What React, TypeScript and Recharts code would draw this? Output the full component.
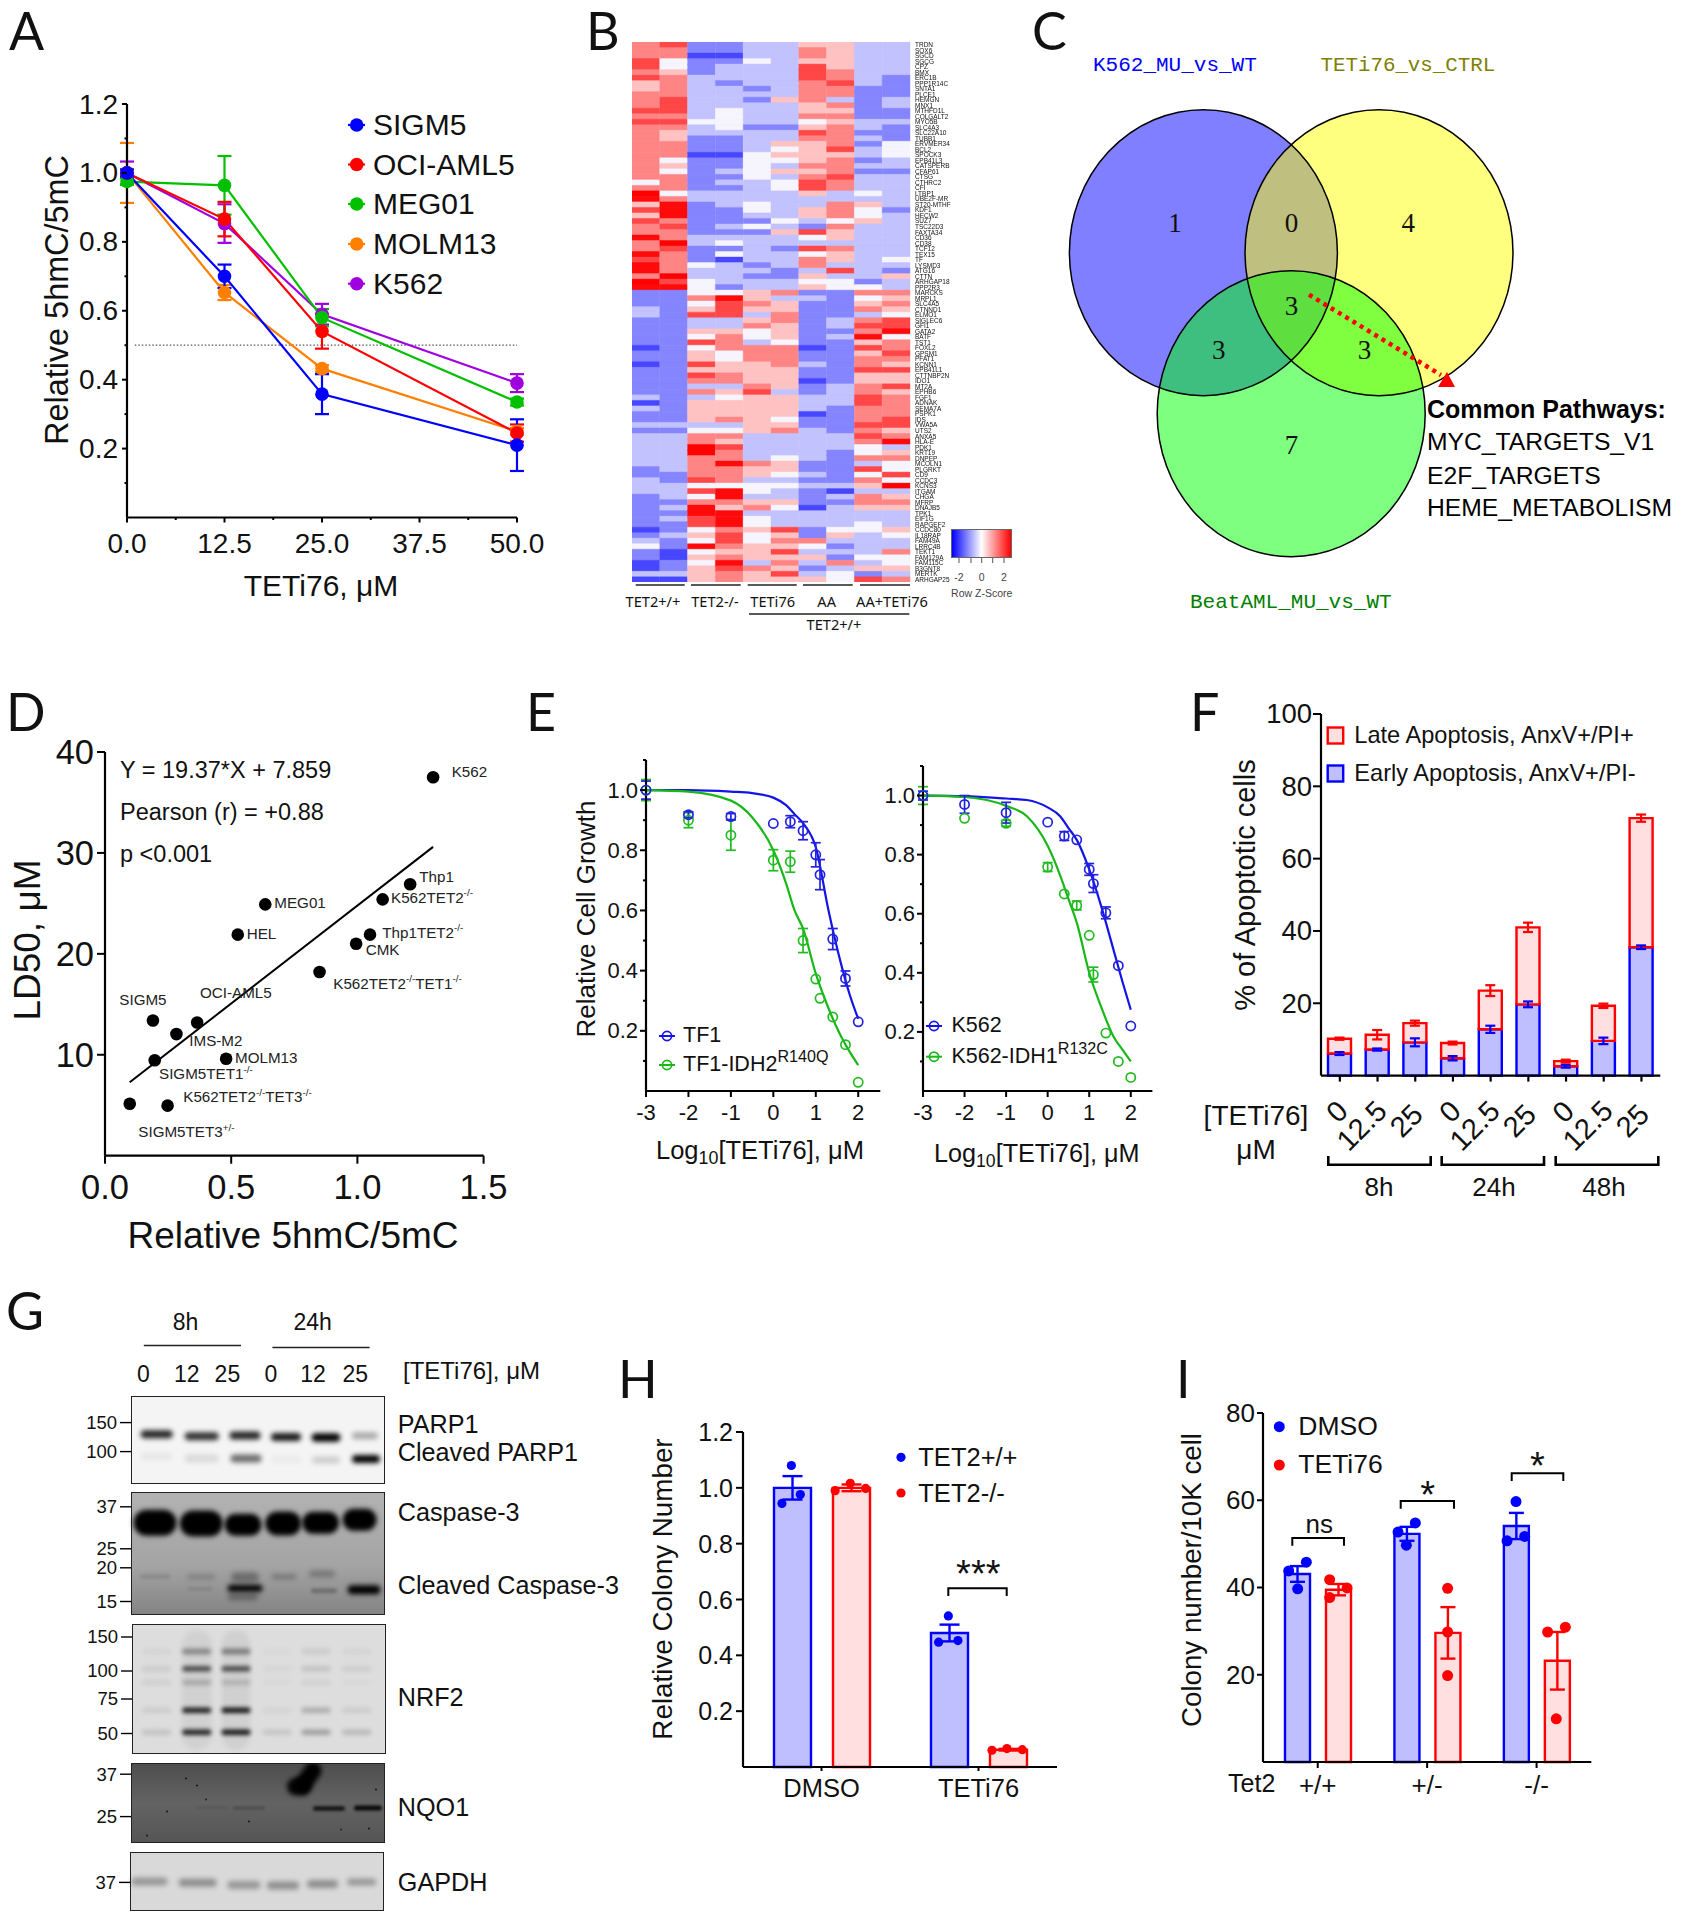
import React from "react";
import {
  Bar, BarChart, Cell, ComposedChart, ErrorBar, Line, ReferenceLine, Scatter, ScatterChart, XAxis, YAxis,
} from "recharts";

const SANS = '"Liberation Sans", Arial, sans-serif';
const THIN = '"Noto Sans", sans-serif';
const LETTER = 'Lato, sans-serif';
const SERIF = '"Liberation Serif", serif';
const MONO = '"Liberation Mono", monospace';
const BLUE = "#0000ff";
const RED = "#ff0000";
const BLUE_FILL = "#bfbfff";
const RED_FILL = "#ffdfdf";

// ---- A: 5hmC/5mC vs dose
const aDoses = [0, 12.5, 25, 50];
const aSigm5 = [1.0, 0.7, 0.358, 0.21];
const aSigm5Err = [0.01, 0.034, 0.058, 0.075];
const aOci = [1.0, 0.866, 0.54, 0.245];
const aOciErr = [0.01, 0.05, 0.05, 0.025];
const aMeg = [0.975, 0.964, 0.58, 0.335];
const aMegErr = [0.01, 0.085, 0.025, 0.01];
const aMolm = [1.0, 0.653, 0.432, 0.25];
const aMolmErr = [0.087, 0.022, 0.01, 0.01];
const aK562 = [1.0, 0.853, 0.59, 0.39];
const aK562Err = [0.033, 0.056, 0.03, 0.026];
const aTable = aDoses.map((dose, i) => ({
  dose,
  SIGM5: aSigm5[i], SIGM5e: aSigm5Err[i],
  OCI: aOci[i], OCIe: aOciErr[i],
  MEG: aMeg[i], MEGe: aMegErr[i],
  MOLM: aMolm[i], MOLMe: aMolmErr[i],
  K562: aK562[i], K562e: aK562Err[i],
}));
const aSeries = [
  { key: "K562", name: "K562", color: "#a000e0" },
  { key: "MOLM", name: "MOLM13", color: "#ff8000" },
  { key: "MEG", name: "MEG01", color: "#00c000" },
  { key: "OCI", name: "OCI-AML5", color: "#ff0000" },
  { key: "SIGM5", name: "SIGM5", color: "#0000ff" },
];
const aLegend = ["SIGM5", "OCI-AML5", "MEG01", "MOLM13", "K562"];
const aLegendY = [125, 164.5, 204, 244, 283.7];

// ---- B: heatmap, one digit per cell, 4 = white, lower = blue, higher = red
const heatColumns = [0, 1, 2, 3, 4, 5, 6, 7, 8, 9];
const heatRows = [
  "67 22 33 55 33", "66 22 33 65 33", "66 11 33 65 33", "74 22 43 55 33", "74 23 33 75 33",
  "65 23 33 76 33", "76 33 33 76 32", "56 32 33 67 32", "56 33 23 66 22", "66 33 33 66 22",
  "67 33 25 63 23", "67 33 33 56 23", "77 34 33 55 22", "66 34 33 66 22", "77 44 33 45 33",
  "66 34 22 56 32", "65 33 33 76 22", "65 22 33 66 32", "66 22 35 56 24", "66 22 34 57 34",
  "66 11 45 55 34", "64 22 44 56 23", "65 22 43 66 33", "64 23 45 56 22", "66 22 43 67 33",
  "46 23 34 76 33", "66 22 34 76 33", "94 33 33 53 43", "86 33 33 33 33", "58 23 43 36 53",
  "78 22 43 56 42", "58 22 33 56 43", "76 22 24 34 53", "67 23 43 26 33", "66 22 25 75 33",
  "86 33 33 45 33", "69 34 33 33 33", "67 22 32 76 33", "86 24 33 45 33", "76 21 33 65 34",
  "86 43 23 63 33", "86 33 32 37 32", "69 33 22 53 35", "97 43 33 44 23", "88 42 33 54 43",
  "22 44 56 22 66", "22 68 53 32 45", "22 47 65 22 56", "32 57 55 22 65", "32 77 36 22 34",
  "22 33 56 23 67", "22 33 65 23 77", "22 55 45 22 68", "22 46 45 23 84", "22 76 34 22 56",
  "12 46 66 12 76", "22 54 66 22 57", "22 54 66 22 66", "12 75 56 32 65", "22 55 55 22 77",
  "22 76 55 22 55", "22 66 55 12 55", "22 33 65 23 67", "22 65 73 23 65", "32 34 55 33 76",
  "12 55 55 33 76", "32 55 55 32 66", "22 55 55 12 66", "22 56 54 22 67", "33 33 55 22 77",
  "22 44 56 32 65", "33 66 33 33 76", "33 65 33 33 68", "33 97 33 33 43", "33 96 33 32 45",
  "33 66 34 32 66", "33 68 65 22 34", "23 66 55 22 74", "22 66 54 32 47", "32 76 33 22 64",
  "33 44 44 33 59", "33 78 43 21 33", "23 48 33 23 65", "22 66 55 22 66", "23 85 64 13 55",
  "22 88 33 33 33", "23 78 43 33 33", "22 78 43 33 43", "12 46 57 24 45", "23 57 45 25 34",
  "32 47 46 63 33", "42 86 55 42 33", "21 45 57 33 36", "21 56 55 52 44", "12 48 36 36 34",
  "12 57 65 23 55", "33 56 57 34 23", "11 56 55 54 76",
];
const heatGenes = [
  "TRDN", "SOX6", "SGCD", "SGCG", "CPZ", "BMX", "ERC1B", "PPP1R14C", "SNTA1", "PLCE1",
  "HEMGN", "MNX1", "MTHFD1L", "COLGALT2", "MYO5B", "SLC4A3", "SLC22A10", "TUBB1", "ERVMER34", "BCL2",
  "SPOCK3", "EPB41L3", "CATSPERB", "CFAP61", "CTSG", "CTHRC2", "CFI", "LTBP1", "UBE2F-MR", "ST20-MTHF",
  "KDF1", "HECW2", "SUZ7", "TSC22D3", "FAXTA34", "CD36", "CD38", "TCF12", "TEX15", "TF",
  "LYSMD3", "ATG16", "CTTN", "ARHGAP18", "PPP2R3", "MARCKS", "MRPL1", "SLC4A5", "CTNND1", "ELMO1",
  "SIGLEC6", "GFI1", "GATA2", "BATF", "TST1", "FOXL2", "GPSM1", "PFAT1", "KCNN1", "EPB41L1",
  "CTTNBP2N", "IDO1", "MT2A", "EPHB6", "FGF1", "ADNAK", "SEMA7A", "PSPK1", "IDS", "VWA5A",
  "UTS2", "ANXA5", "HLA-E", "PDK1", "KRT19", "DNPEP", "MCOLN1", "PLGRKT", "CD9", "CCDC3",
  "KCNS3", "ITGAM", "CHGA", "MFRP", "DNAJB5", "TPK1", "EIF1G", "RAPGEF2", "CCDC80", "IL18RAP",
  "FAM49A", "LRRC4B", "TEKT1", "FAM129A", "FAM115C", "B3GNT8", "MERTK", "ARHGAP25",
];
const heatTable = heatRows.map((r, i) => {
  const row: any = { gene: heatGenes[i] ?? "", codes: r.replace(/ /g, "") };
  heatColumns.forEach((c) => (row["c" + c] = 1));
  return row;
});
const zColor = (d: number) => {
  const t = Math.min(1, Math.abs(d - 4) * 0.24);
  const v = Math.round(255 * (1 - t));
  return d < 4 ? `rgb(${v},${v},255)` : d === 4 ? "#f6f4fc" : `rgb(255,${v},${v})`;
};

// ---- C: venn circles
const vennNames = ["K562_MU_vs_WT", "TETi76_vs_CTRL", "BeatAML_MU_vs_WT"];
const vennColors = ["#0000ff", "#ffff00", "#00ff00"];
const vennX = [1203.4, 1379, 1291.2];
const vennY = [252.7, 252.7, 413.7];
const vennCounts = ["1", "0", "4", "3", "3", "3", "7"];
const vennCountX = [1175, 1291.4, 1408.3, 1291.4, 1218.8, 1364.4, 1291.4];
const vennCountY = [223, 223, 223, 306, 350, 350, 445];
const pathways = ["MYC_TARGETS_V1", "E2F_TARGETS", "HEME_METABOLISM"];

// ---- D: LD50 scatter
const dX = [1.3, 1.209, 1.1, 0.635, 0.526, 1.05, 0.995, 0.85, 0.19, 0.283, 0.365, 0.48, 0.197, 0.098, 0.248];
const dY = [37.5, 26.9, 25.4, 24.9, 21.9, 21.9, 21.0, 18.2, 13.4, 12.05, 13.2, 9.6, 9.45, 5.15, 4.96];
const dTable = dX.map((x, i) => ({ x, y: dY[i] }));
const dFit = [{ x: 0.098, y: 7.28 }, { x: 1.3, y: 30.6 }];

// ---- E: dose response
const eDoses = [-3, -2, -1, 0, 0.4, 0.7, 1, 1.1, 1.4, 1.7, 2];
const tf1 = [1.0, 0.918, 0.912, 0.889, 0.895, 0.865, 0.785, 0.719, 0.505, 0.374, 0.23];
const tf1Err = [0.03, 0.01, 0.01, 0, 0.02, 0.03, 0.04, 0.05, 0.035, 0.025, 0];
const tf1Mut = [1.0, 0.9, 0.85, 0.767, 0.762, 0.5, 0.372, 0.308, 0.246, 0.154, 0.029];
const tf1MutErr = [0.035, 0.025, 0.05, 0.035, 0.035, 0.04, 0, 0, 0, 0, 0];
const k562 = [1.0, 0.97, 0.942, 0.91, 0.863, 0.85, 0.75, 0.702, 0.603, 0.424, 0.22];
const k562Err = [0.015, 0.03, 0.035, 0, 0.015, 0, 0.02, 0.03, 0.02, 0, 0];
const k562Mut = [1.0, 0.923, 0.906, 0.758, 0.667, 0.628, 0.527, 0.394, 0.196, 0.1, 0.046];
const k562MutErr = [0.03, 0, 0.01, 0.015, 0, 0.015, 0, 0.025, 0, 0, 0];
const curveX = [-3, -2, -1, -0.5, 0, 0.3, 0.5, 0.7, 1, 1.3, 1.6, 1.8, 2];
const tf1Curve = [1, 1, 0.995, 0.99, 0.975, 0.95, 0.92, 0.89, 0.81, 0.6, 0.42, 0.32, 0.24];
const tf1MutCurve = [1, 0.995, 0.965, 0.91, 0.8, 0.69, 0.6, 0.54, 0.39, 0.275, 0.18, 0.13, 0.086];
const k562Curve = [1, 0.998, 0.99, 0.985, 0.96, 0.93, 0.89, 0.85, 0.75, 0.62, 0.47, 0.37, 0.275];
const k562MutCurve = [1, 0.995, 0.965, 0.93, 0.83, 0.73, 0.65, 0.57, 0.4, 0.28, 0.18, 0.14, 0.1];
const points = (ys: number[], errs: number[]) => eDoses.map((x, i) => ({ x, y: ys[i], err: errs[i] }));
const curve = (ys: number[]) => curveX.map((x, i) => ({ x, y: ys[i] }));

// ---- F: apoptosis stack
const fDoses = ["0", "12.5", "25", "0", "12.5", "25", "0", "12.5", "25"];
const fEarly = [6.1, 7.2, 9.2, 4.8, 12.8, 19.7, 2.6, 9.6, 35.5];
const fEarlyErr = [0.4, 0.3, 1.1, 0.6, 1, 0.8, 0.4, 0.9, 0.5];
const fLate = [4.1, 4.1, 5.3, 4.2, 10.7, 21.3, 1.4, 9.7, 35.7];
const fLateErr = [0.3, 1.3, 0.7, 0.4, 1.5, 1.3, 0.4, 0.6, 1];
const fTable = fDoses.map((dose, i) => ({
  dose, early: fEarly[i], earlyErr: fEarlyErr[i], late: fLate[i], lateErr: fLateErr[i],
}));
const fTimes = ["8h", "24h", "48h"];

// ---- G: western blots, each band is [x, y, width, height, darkness, rotation]
const parpBands = [
  [156.7, 1434.2, 32, 8, 0.85], [201.7, 1436.3, 34, 8, 0.8], [245, 1435.4, 31, 8, 0.85],
  [286, 1437, 30, 8, 0.9], [326, 1437.5, 29, 8.5, 1], [365, 1435.8, 26, 7, 0.3],
  [156.7, 1456.6, 32, 7, 0.05], [201.7, 1458.6, 34, 8, 0.1], [246, 1458.6, 31, 8, 0.55],
  [286, 1459.5, 30, 7, 0.04], [326, 1460, 28, 7, 0.16], [366, 1459, 28, 8, 1],
];
const caspaseBands = [
  [155, 1522.9, 43, 26, 1], [201.3, 1523.7, 43, 26, 1], [243, 1525, 37, 22, 1],
  [283.2, 1523.7, 36, 24, 1], [320.6, 1522.9, 37, 22, 1], [359.6, 1520, 34, 22, 1],
  [155, 1576.8, 30, 5, 0.1], [201, 1577, 28, 6, 0.14], [245, 1577.5, 28, 10, 0.3],
  [284, 1577, 25, 6, 0.2], [322, 1574, 26, 7, 0.24],
  [245, 1588.4, 35, 7, 1], [200, 1589, 24, 4, 0.1], [324, 1591, 26, 5, 0.24], [364, 1590, 33, 9, 1],
  [243, 1597, 30, 7, 0.3],
];
const nrfLanes = [156.7, 196.9, 236.2, 277.2, 316.2, 356.8];
const nrfRows = [1651.4, 1668.8, 1682.5, 1710.3, 1732.3];
const nrfDarkness = [
  [0.04, 0.08, 0.06, 0.08, 0.12],
  [0.35, 0.65, 0.2, 0.85, 0.85],
  [0.4, 0.65, 0.15, 0.9, 0.9],
  [0.02, 0.03, 0.02, 0.04, 0.1],
  [0.08, 0.12, 0.05, 0.22, 0.28],
  [0.04, 0.07, 0.02, 0.08, 0.16],
];
const nrfBands = [
  [196.9, 1690, 30, 120, 0.05], [236.2, 1690, 28, 120, 0.06],
  ...nrfLanes.flatMap((x, l) => nrfRows.map((y, r) => [x, y, 29, r === 0 ? 6 : 5.5, nrfDarkness[l][r]])),
];
const nqoBands = [
  [308, 1778, 17, 34, 1, 35], [299, 1787, 24, 18, 0.95], [329, 1809, 32, 4.5, 0.8], [368, 1808.5, 28, 5, 0.9], [249, 1808.5, 32, 3.5, 0.18], [212, 1808, 32, 3, 0.08],
  [186, 1779, 2, 2, 0.8], [197, 1786, 2, 2, 0.8], [206, 1800, 2, 2, 0.7], [167, 1812, 2, 2, 0.8],
  [249, 1822, 2, 2, 0.8], [147, 1836, 2, 2, 0.7], [341, 1830, 2, 2, 0.6], [369, 1829, 2, 2, 0.8], [376, 1790, 2, 2, 0.8],
];
const gapdhBands = [
  [149.5, 1881.5, 36, 8, 0.3], [197.7, 1882.8, 38, 8, 0.34], [243.9, 1885, 33, 8, 0.3],
  [283, 1885.5, 32, 8, 0.34], [322.6, 1884, 31, 8, 0.34], [361.6, 1882, 29, 7, 0.3],
];
const gDoses = ["0", "12", "25", "0", "12", "25"];
const gDoseX = [143.4, 186.8, 227.4, 270.8, 313, 355.2];
const gProteins = ["PARP1", "Cleaved PARP1", "Caspase-3", "Cleaved Caspase-3", "NRF2", "NQO1", "GAPDH"];
const gProteinY = [1424, 1451.6, 1511.7, 1585, 1697, 1807, 1881.5];

// ---- H: relative colony number
const hGroups = ["DMSO", "TETi76"];
const hWt = [1.0, 0.48];
const hWtErr = [0.042, 0.03];
const hKo = [1.0, 0.062];
const hKoErr = [0.012, 0.003];
const hTable = hGroups.map((g, i) => ({ g, wt: hWt[i], wtErr: hWtErr[i], ko: hKo[i], koErr: hKoErr[i] }));
const hWtDotX = [0.308, 0.365, 0.248, 1.308, 1.246, 1.369];
const hWtDotY = [1.08, 0.976, 0.944, 0.541, 0.447, 0.453];
const hKoDotX = [0.587, 0.683, 0.781, 1.586, 1.681, 1.779];
const hKoDotY = [0.99, 1.016, 0.998, 0.06, 0.066, 0.062];

// ---- I: colony number per genotype
const iGroups = ["+/+", "+/-", "-/-"];
const iDmso = [43.1, 52.3, 54.1];
const iDmsoErr = [1.8, 1.6, 3];
const iTet = [39.5, 29.6, 23.2];
const iTetErr = [1.3, 5.9, 6.6];
const iTable = iGroups.map((g, i) => ({ g, dmso: iDmso[i], dmsoErr: iDmsoErr[i], tet: iTet[i], tetErr: iTetErr[i] }));
const iDmsoDotX = [0.396, 0.235, 0.317, 1.392, 1.234, 1.31, 2.312, 2.23, 2.391];
const iDmsoDotY = [45.8, 43.8, 39.7, 54.8, 52.7, 49.7, 59.7, 50.7, 51.7];
const iTetDotX = [0.609, 0.768, 0.609, 1.687, 1.687, 1.687, 2.763, 2.601, 2.68];
const iTetDotY = [41.8, 39.9, 37.7, 39.8, 29.8, 19.8, 30.9, 29.8, 9.9];

const zip = (xs: number[], ys: number[]) => xs.map((x, i) => ({ x, y: ys[i] }));

// places a chart so that its plot area sits exactly on x0..x1, y0..y1 of the page
const frame = (x0: number, y0: number, x1: number, y1: number, padL = 70, padB = 50, pad = 22, padR = 34) => ({
  pos: { position: "absolute", left: x0 - padL, top: y0 - pad } as React.CSSProperties,
  chart: { width: x1 - x0 + padL + padR, height: y1 - y0 + pad + padB, margin: { top: pad, right: padR, left: 0, bottom: 0 } },
  padL,
  padB,
});

const yTick = (o: any) => (p: any) => {
  const v = p.payload.value;
  const major = o.major ? o.major(v) : true;
  const len = major ? o.len : o.minor;
  return (
    <g>
      <line x1={p.x - len} x2={p.x} y1={p.y} y2={p.y} stroke="#000" strokeWidth={o.sw ?? 2} />
      {major && (
        <text x={p.x - o.gap} y={p.y} textAnchor="end" dominantBaseline="central" fontSize={o.size} fontFamily={SANS} fill="#111">
          {o.fmt ? o.fmt(v) : v}
        </text>
      )}
    </g>
  );
};
const xTick = (o: any) => (p: any) => {
  const v = p.payload.value;
  const major = o.major ? o.major(v) : true;
  const len = major ? o.len : o.minor;
  return (
    <g>
      <line x1={p.x} x2={p.x} y1={p.y} y2={p.y + len} stroke="#000" strokeWidth={o.sw ?? 2} />
      {major && (
        <text x={p.x} y={p.y + o.gap} textAnchor="middle" dominantBaseline="central" fontSize={o.size} fontFamily={SANS} fill="#111">
          {o.fmt ? o.fmt(v) : v}
        </text>
      )}
    </g>
  );
};
const axisProps = (sw = 2.2) => ({
  axisLine: { stroke: "#000", strokeWidth: sw },
  tickLine: false,
  tickSize: 0,
  tickMargin: 0,
  interval: 0 as const,
});

function T({ x, y, s, a = "start", r = 0, b = false, c = "#111", f = SANS, lh = 1.2, children }: any) {
  const tx = a === "start" ? "0" : a === "middle" ? "-50%" : "-100%";
  return (
    <div
      style={{
        position: "absolute", left: x, top: y, fontSize: s, fontFamily: f, fontWeight: b ? 700 : 400, color: c,
        lineHeight: lh, whiteSpace: "nowrap", zIndex: 5, transform: `translate(${tx},-50%) rotate(${r}deg)`,
      }}
    >
      {children}
    </div>
  );
}
const Sup = ({ k = 0.65, lift = 0.42, children }: any) => (
  <span style={{ fontSize: `${k}em`, position: "relative", top: `-${lift / k}em` }}>{children}</span>
);
const Sub = ({ children }: any) => (
  <span style={{ fontSize: "0.7em", position: "relative", top: "0.3em" }}>{children}</span>
);

const openDot = (color: string) => (p: any) => (
  <circle cx={p.cx} cy={p.cy} r={4.6} fill="none" stroke={color} strokeWidth={1.7} />
);
const solidDot = (color: string, r: number) => (p: any) => <circle cx={p.cx} cy={p.cy} r={r} fill={color} />;

function DoseChart({ box, blue, blueErr, green, greenErr, blueCurve, greenCurve }: any) {
  const f = frame(box[0], box[1], box[2], box[3], 60, 40);
  return (
    <div style={f.pos}>
      <ComposedChart {...f.chart}>
        <XAxis dataKey="x" type="number" domain={[-3, 2.52]} ticks={[-3, -2, -1, 0, 1, 2]} height={f.padB} {...axisProps()}
          tick={xTick({ len: 6, gap: 21.7, size: 22 })} />
        <YAxis type="number" domain={[0, 1.1]} ticks={[0.1, 0.2, 0.3, 0.4, 0.5, 0.6, 0.7, 0.8, 0.9, 1.0, 1.1]} width={f.padL} {...axisProps()}
          tick={yTick({ len: 6, minor: 3, gap: 8, size: 22, major: (v: number) => Math.round(v * 10) % 2 === 0, fmt: (v: number) => v.toFixed(1) })} />
        <Line data={curve(blueCurve)} dataKey="y" type="monotone" stroke="#1414e6" strokeWidth={2.2} dot={false} isAnimationActive={false} />
        <Line data={curve(greenCurve)} dataKey="y" type="monotone" stroke="#18b818" strokeWidth={2.2} dot={false} isAnimationActive={false} />
        <Scatter data={points(green, greenErr)} dataKey="y" shape={openDot("#22bb22")} isAnimationActive={false}>
          <ErrorBar dataKey="err" direction="y" width={5} stroke="#22bb22" strokeWidth={1.7} />
        </Scatter>
        <Scatter data={points(blue, blueErr)} dataKey="y" shape={openDot("#2222e0")} isAnimationActive={false}>
          <ErrorBar dataKey="err" direction="y" width={5} stroke="#2222e0" strokeWidth={1.7} />
        </Scatter>
      </ComposedChart>
    </div>
  );
}

const bandShape = (p: any) => {
  const [, , w, h, d, rot] = p.payload.band;
  return (
    <rect x={p.cx - w / 2} y={p.cy - h / 2} width={w} height={h} rx={Math.min(h, w) / 2} fill="#000" fillOpacity={d}
      transform={rot ? `rotate(${rot} ${p.cx} ${p.cy})` : undefined}
      style={{ filter: `blur(${Math.min(h / 2.7, 2.4)}px)` }} />
  );
};

function Blot({ box, bg, mw, mwY, bands, size = 18.5 }: any) {
  const [x0, y0, x1, y1] = box;
  const f = frame(x0, y0, x1, y1, 60, 0, 0, 0);
  const table = bands.map((b: number[]) => ({ x: b[0], y: b[1], band: b }));
  return (
    <>
      <div style={{ position: "absolute", left: x0, top: y0, width: x1 - x0, height: y1 - y0, background: bg, border: "1.2px solid #222", boxSizing: "border-box", overflow: "hidden" }} />
      <div style={{ ...f.pos, zIndex: 2 }}>
        <ScatterChart {...f.chart}>
          <XAxis dataKey="x" type="number" domain={[x0, x1]} hide />
          <YAxis dataKey="y" type="number" domain={[y0, y1]} reversed ticks={mwY} width={60} axisLine={false} tickLine={false} tickSize={0} tickMargin={0} interval={0}
            tick={yTick({ len: 11, gap: 14, size, sw: 1.4, fmt: (v: number) => mw[mwY.indexOf(v)] })} />
          <Scatter data={table} shape={bandShape} isAnimationActive={false} />
        </ScatterChart>
      </div>
    </>
  );
}

export default function App() {
  const fa = frame(127.4, 104, 517.4, 517.5, 80, 50);
  const fb = frame(632, 41.7, 910, 582, 0, 0, 0, 0);
  const fd = frame(104.7, 751.5, 483.3, 1155.2, 80, 60);
  const ff = frame(1320.7, 714.4, 1660, 1076, 70, 90, 22, 10);
  const fh = frame(742.7, 1431.7, 1056.7, 1766.7, 70, 40);
  const fi = frame(1262.7, 1413.3, 1591, 1762.3, 70, 40);
  const fdoseTick = (p: any) => {
    const v = p.payload.value;
    const off: any = { "0": [-3, 36], "12.5": [-16, 50], "25": [-9, 45] };
    const [dx, dy] = off[v];
    return (
      <g>
        <line x1={p.x} x2={p.x} y1={p.y} y2={p.y + 6} stroke="#000" strokeWidth={2.2} />
        <text x={p.x + dx} y={p.y + dy} textAnchor="middle" dominantBaseline="central" fontSize={29} fontFamily={SANS} fill="#111"
          transform={`rotate(-45 ${p.x + dx} ${p.y + dy})`}>{v}</text>
      </g>
    );
  };

  return (
    <div style={{ position: "absolute", left: 0, top: 0, width: 1682, height: 1920, background: "#fff", overflow: "hidden" }}>
      {/* panel letters */}
      <T x={9} y={30} s={52} f={LETTER} lh={1}>A</T>
      <T x={586} y={30} s={52} f={LETTER} lh={1}>B</T>
      <T x={1032} y={30} s={52} f={LETTER} lh={1}>C</T>
      <T x={6} y={711} s={52} f={LETTER} lh={1}>D</T>
      <T x={526} y={711} s={52} f={LETTER} lh={1}>E</T>
      <T x={1190} y={711} s={52} f={LETTER} lh={1}>F</T>
      <T x={6} y={1310} s={52} f={LETTER} lh={1}>G</T>
      <T x={618} y={1378} s={52} f={LETTER} lh={1}>H</T>
      <T x={1176} y={1378} s={52} f={LETTER} lh={1}>I</T>

      {/* A */}
      <div style={fa.pos}>
        <ComposedChart {...fa.chart} data={aTable}>
          <XAxis dataKey="dose" type="number" domain={[0, 50]} ticks={[0, 6.25, 12.5, 18.75, 25, 31.25, 37.5, 43.75, 50]} height={fa.padB} {...axisProps()}
            tick={xTick({ len: 5, minor: 2.5, gap: 25.5, size: 28, major: (v: number) => v % 12.5 === 0, fmt: (v: number) => v.toFixed(1) })} />
          <YAxis type="number" domain={[0, 1.2]} ticks={[0.1, 0.2, 0.3, 0.4, 0.5, 0.6, 0.7, 0.8, 0.9, 1.0, 1.1, 1.2]} width={fa.padL} {...axisProps()}
            tick={yTick({ len: 5, minor: 2.5, gap: 9, size: 28, major: (v: number) => Math.round(v * 10) % 2 === 0, fmt: (v: number) => v.toFixed(1) })} />
          <ReferenceLine segment={[{ x: 1, y: 0.5 }, { x: 50, y: 0.5 }]} stroke="#555" strokeWidth={1.2} strokeDasharray="1.5 2" />
          {aSeries.map((s) => (
            <Line key={s.key} dataKey={s.key} stroke={s.color} strokeWidth={2.2} isAnimationActive={false}
              dot={{ r: 6.8, fill: s.color, stroke: s.color, strokeWidth: 0 }}>
              <ErrorBar dataKey={s.key + "e"} direction="y" width={7} stroke={s.color} strokeWidth={2.2} />
            </Line>
          ))}
        </ComposedChart>
      </div>
      <T x={57.4} y={300} s={32.4} a="middle" r={-90}>Relative 5hmC/5mC</T>
      <T x={321} y={586} s={30} a="middle">TETi76, μM</T>
      {aLegend.map((n, i) => (
        <T key={n} x={373} y={aLegendY[i]} s={30}>{n}</T>
      ))}

      {/* B */}
      <div style={{ ...fb.pos, filter: "blur(0.6px)" }}>
        <BarChart width={278 + 50} height={540.3} margin={{ top: 0, right: 0, left: 0, bottom: 0 }} layout="vertical" data={heatTable} barCategoryGap={0}>
          <XAxis type="number" domain={[0, 10]} hide />
          <YAxis type="category" dataKey="gene" orientation="right" width={50} interval={0} axisLine={false} tickLine={false} tickSize={0} tickMargin={5}
            tick={{ fontSize: 6.5, fill: "#111", fontFamily: SANS }} />
          {heatColumns.map((c) => (
            <Bar key={c} dataKey={"c" + c} stackId="h" isAnimationActive={false}>
              {heatTable.map((row: any, i: number) => {
                const col = zColor(Number(row.codes[c]));
                return <Cell key={i} fill={col} stroke={col} strokeWidth={0.4} />;
              })}
            </Bar>
          ))}
        </BarChart>
      </div>
      <div style={{ position: "absolute", left: 951, top: 529, width: 61, height: 29, background: "linear-gradient(to right,#0000ff,#ffffff 50%,#ff0000)", border: "1px solid #666", boxSizing: "border-box" }} />
      <T x={959} y={577} s={10.5} a="middle" c="#444">-2</T>
      <T x={981.7} y={577} s={10.5} a="middle" c="#444">0</T>
      <T x={1004} y={577} s={10.5} a="middle" c="#444">2</T>
      <T x={981.7} y={592.6} s={10.5} a="middle" c="#444">Row Z-Score</T>
      <T x={653} y={602} s={14.6} a="middle" f={THIN}>TET2+/+</T>
      <T x={715} y={602} s={14.6} a="middle" f={THIN}>TET2-/-</T>
      <T x={772.7} y={602} s={14.6} a="middle" f={THIN}>TETi76</T>
      <T x={826.7} y={602} s={14.6} a="middle" f={THIN}>AA</T>
      <T x={892} y={602} s={14.6} a="middle" f={THIN}>AA+TETi76</T>
      <T x={834} y={625} s={14.6} a="middle" f={THIN}>TET2+/+</T>

      {/* C */}
      <div style={{ position: "absolute", left: 1020, top: 0 }}>
        <ScatterChart width={662} height={640} margin={{ top: 0, right: 0, left: 0, bottom: 0 }}>
          <XAxis dataKey="x" type="number" domain={[1020, 1682]} hide />
          <YAxis dataKey="y" type="number" domain={[0, 640]} reversed hide />
          {vennX.map((x, i) => (
            <Scatter key={i} data={[{ x, y: vennY[i] }]} isAnimationActive={false}
              shape={(p: any) => <ellipse cx={p.cx} cy={p.cy} rx={134} ry={143} fill={vennColors[i]} fillOpacity={0.5} />} />
          ))}
          <Scatter data={zip(vennX, vennY)} isAnimationActive={false}
            shape={(p: any) => <ellipse cx={p.cx} cy={p.cy} rx={134} ry={143} fill="none" stroke="#000" strokeWidth={1.5} />} />
        </ScatterChart>
      </div>
      {vennCounts.map((n, i) => (
        <T key={i} x={vennCountX[i]} y={vennCountY[i]} s={27} a="middle" f={SERIF}>{n}</T>
      ))}
      <T x={1093} y={66} s={21} f={MONO} c="#0000ff">{vennNames[0]}</T>
      <T x={1320.5} y={66} s={20.8} f={MONO} c="#808000">{vennNames[1]}</T>
      <T x={1190} y={603} s={21} f={MONO} c="#008000">{vennNames[2]}</T>
      <T x={1427} y={409} s={25} b c="#000">Common Pathways:</T>
      <T x={1427} y={442.4} s={24.7} c="#000">{pathways[0]}</T>
      <T x={1427} y={475.5} s={24.7} c="#000">{pathways[1]}</T>
      <T x={1427} y={508} s={24.7} c="#000">{pathways[2]}</T>

      {/* D */}
      <div style={fd.pos}>
        <ScatterChart {...fd.chart}>
          <XAxis dataKey="x" type="number" domain={[0, 1.5]} ticks={[0, 0.5, 1, 1.5]} height={fd.padB} {...axisProps()}
            tick={xTick({ len: 8, gap: 31.6, size: 34.5, fmt: (v: number) => v.toFixed(1) })} />
          <YAxis dataKey="y" type="number" domain={[0, 40]} ticks={[10, 20, 30, 40]} width={fd.padL} {...axisProps()}
            tick={yTick({ len: 8, gap: 11, size: 34.5 })} />
          <ReferenceLine segment={dFit} stroke="#000" strokeWidth={2} />
          <Scatter data={dTable} shape={solidDot("#000", 6.3)} isAnimationActive={false} />
        </ScatterChart>
      </div>
      <T x={28} y={940} s={37} a="middle" r={-90}>LD50, μM</T>
      <T x={293} y={1236} s={37} a="middle">Relative 5hmC/5mC</T>
      <T x={120} y={769.5} s={23.5}>Y = 19.37*X + 7.859</T>
      <T x={120} y={811.7} s={23.5}>Pearson (r) = +0.88</T>
      <T x={120} y={853.8} s={23.5}>p &lt;0.001</T>
      <T x={451.7} y={772} s={15.2} c="#222">K562</T>
      <T x={419.3} y={877} s={15.2} c="#222">Thp1</T>
      <T x={391} y={897.5} s={15.2} c="#222">K562TET2<Sup>-/-</Sup></T>
      <T x={274.3} y={903} s={15.2} c="#222">MEG01</T>
      <T x={246.7} y={934} s={15.2} c="#222">HEL</T>
      <T x={382.3} y={932.8} s={15.2} c="#222">Thp1TET2<Sup>-/-</Sup></T>
      <T x={365.7} y={950} s={15.2} c="#222">CMK</T>
      <T x={333.3} y={983.6} s={15.2} c="#222">K562TET2<Sup>-/-</Sup>TET1<Sup>-/-</Sup></T>
      <T x={119.3} y={999.8} s={15.2} c="#222">SIGM5</T>
      <T x={200} y={993} s={15.2} c="#222">OCI-AML5</T>
      <T x={189.3} y={1041} s={15.2} c="#222">IMS-M2</T>
      <T x={235} y={1057.7} s={15.2} c="#222">MOLM13</T>
      <T x={159} y={1074} s={15.2} c="#222">SIGM5TET1<Sup>-/-</Sup></T>
      <T x={183.3} y={1097} s={15.2} c="#222">K562TET2<Sup>-/-</Sup>TET3<Sup>-/-</Sup></T>
      <T x={138.3} y={1132} s={15.2} c="#222">SIGM5TET3<Sup>+/-</Sup></T>

      {/* E */}
      <DoseChart box={[645.7, 760, 880, 1091]} blue={tf1} blueErr={tf1Err} green={tf1Mut} greenErr={tf1MutErr} blueCurve={tf1Curve} greenCurve={tf1MutCurve} />
      <DoseChart box={[923.3, 766, 1152.7, 1091]} blue={k562} blueErr={k562Err} green={k562Mut} greenErr={k562MutErr} blueCurve={k562Curve} greenCurve={k562MutCurve} />
      <T x={586.5} y={919} s={26} a="middle" r={-90}>Relative Cell Growth</T>
      <T x={656} y={1150} s={25.5}>Log<Sub>10</Sub>[TETi76], μM</T>
      <T x={934} y={1153} s={25.2}>Log<Sub>10</Sub>[TETi76], μM</T>
      <T x={683} y={1036} s={21.5}>TF1</T>
      <T x={683} y={1065} s={21.5}>TF1-IDH2<Sup k={0.75} lift={0.4}>R140Q</Sup></T>
      <T x={951.4} y={1026} s={21.5}>K562</T>
      <T x={951.4} y={1056.7} s={21.5}>K562-IDH1<Sup k={0.75} lift={0.4}>R132C</Sup></T>

      {/* F */}
      <div style={ff.pos}>
        <ComposedChart {...ff.chart} data={fTable}>
          <XAxis dataKey="dose" height={ff.padB} {...axisProps()} tick={fdoseTick} />
          <YAxis type="number" domain={[0, 100]} ticks={[20, 40, 60, 80, 100]} width={ff.padL} {...axisProps()}
            tick={yTick({ len: 8, gap: 9, size: 27.5 })} />
          <Bar dataKey="early" stackId="s" barSize={23} fill={BLUE_FILL} stroke={BLUE} strokeWidth={2.4} isAnimationActive={false}>
            <ErrorBar dataKey="earlyErr" direction="y" width={5} stroke={BLUE} strokeWidth={2.2} />
          </Bar>
          <Bar dataKey="late" stackId="s" barSize={23} fill={RED_FILL} stroke={RED} strokeWidth={2.4} isAnimationActive={false}>
            <ErrorBar dataKey="lateErr" direction="y" width={5} stroke={RED} strokeWidth={2.2} />
          </Bar>
        </ComposedChart>
      </div>
      <T x={1245} y={885} s={29} a="middle" r={-90}>% of Apoptotic cells</T>
      <T x={1354.3} y={735} s={23.6}>Late Apoptosis, AnxV+/PI+</T>
      <T x={1354.3} y={773} s={23.6}>Early Apoptosis, AnxV+/PI-</T>
      <T x={1256} y={1115.6} s={28} a="middle">[TETi76]</T>
      <T x={1256} y={1150} s={28} a="middle">μM</T>
      <T x={1379} y={1188} s={26} a="middle">{fTimes[0]}</T>
      <T x={1494} y={1188} s={26} a="middle">{fTimes[1]}</T>
      <T x={1604} y={1188} s={26} a="middle">{fTimes[2]}</T>

      {/* G */}
      <Blot box={[131, 1396, 384.5, 1484.3]} bg="#f4f4f4" mw={["150", "100"]} mwY={[1422.6, 1451.6]} bands={parpBands} />
      <Blot box={[131, 1492.2, 384.5, 1615]} bg="linear-gradient(#b2b2b2,#a4a4a4 60%,#848484)" mw={["37", "25", "20", "15"]} mwY={[1507, 1549, 1568, 1601.7]} bands={caspaseBands} />
      <Blot box={[132.2, 1624, 385.7, 1754.3]} bg="#dddddd" mw={["150", "100", "75", "50"]} mwY={[1637, 1671, 1699, 1733.5]} bands={nrfBands} />
      <Blot box={[131, 1763.4, 384.5, 1843]} bg="linear-gradient(#4e4e4e,#636363 50%,#555555)" mw={["37", "25"]} mwY={[1774.6, 1817]} bands={nqoBands} />
      <Blot box={[130, 1852, 383.7, 1910.5]} bg="#d9d9d9" mw={["37"]} mwY={[1882.4]} bands={gapdhBands} />
      <T x={185.6} y={1323} s={23} a="middle">8h</T>
      <T x={312.6} y={1323} s={23} a="middle">24h</T>
      {gDoses.map((d, i) => (
        <T key={i} x={gDoseX[i]} y={1374.5} s={23} a="middle">{d}</T>
      ))}
      <T x={403} y={1370.7} s={24}>[TETi76], μM</T>
      {gProteins.map((n, i) => (
        <T key={n} x={397.8} y={gProteinY[i]} s={25.2}>{n}</T>
      ))}

      {/* H */}
      <div style={fh.pos}>
        <ComposedChart {...fh.chart} data={hTable} barGap={22}>
          <XAxis dataKey="g" height={fh.padB} {...axisProps()} tick={xTick({ len: 4, gap: 21, size: 25.5 })} />
          <XAxis xAxisId="dots" dataKey="x" type="number" domain={[0, 2]} hide />
          <YAxis type="number" domain={[0, 1.2]} ticks={[0.2, 0.4, 0.6, 0.8, 1.0, 1.2]} width={fh.padL} {...axisProps()}
            tick={yTick({ len: 7, gap: 10, size: 25, fmt: (v: number) => v.toFixed(1) })} />
          <YAxis yAxisId="dots" type="number" dataKey="y" domain={[0, 1.2]} hide />
          <Bar dataKey="wt" barSize={37} fill={BLUE_FILL} stroke={BLUE} strokeWidth={2.4} isAnimationActive={false}>
            <ErrorBar dataKey="wtErr" direction="y" width={10} stroke={BLUE} strokeWidth={2.4} />
          </Bar>
          <Bar dataKey="ko" barSize={37} fill={RED_FILL} stroke={RED} strokeWidth={2.4} isAnimationActive={false}>
            <ErrorBar dataKey="koErr" direction="y" width={10} stroke={RED} strokeWidth={2.4} />
          </Bar>
          <Scatter xAxisId="dots" yAxisId="dots" data={zip(hWtDotX, hWtDotY)} shape={solidDot(BLUE, 4.6)} isAnimationActive={false} />
          <Scatter xAxisId="dots" yAxisId="dots" data={zip(hKoDotX, hKoDotY)} shape={solidDot(RED, 4.6)} isAnimationActive={false} />
        </ComposedChart>
      </div>
      <T x={662.7} y={1589} s={27.8} a="middle" r={-90}>Relative Colony Number</T>
      <T x={918.3} y={1457.3} s={25.5}>TET2+/+</T>
      <T x={918.3} y={1493} s={25.5}>TET2-/-</T>
      <T x={978.3} y={1575} s={38} a="middle">***</T>

      {/* I */}
      <div style={fi.pos}>
        <ComposedChart {...fi.chart} data={iTable} barGap={16}>
          <XAxis dataKey="g" height={fi.padB} {...axisProps()} tick={xTick({ len: 6, gap: 23, size: 26 })} />
          <XAxis xAxisId="dots" dataKey="x" type="number" domain={[0, 3]} hide />
          <YAxis type="number" domain={[0, 80]} ticks={[20, 40, 60, 80]} width={fi.padL} {...axisProps()}
            tick={yTick({ len: 6, gap: 8, size: 26 })} />
          <YAxis yAxisId="dots" type="number" dataKey="y" domain={[0, 80]} hide />
          <Bar dataKey="dmso" barSize={25} fill={BLUE_FILL} stroke={BLUE} strokeWidth={2.4} isAnimationActive={false}>
            <ErrorBar dataKey="dmsoErr" direction="y" width={7.5} stroke={BLUE} strokeWidth={2.4} />
          </Bar>
          <Bar dataKey="tet" barSize={25} fill={RED_FILL} stroke={RED} strokeWidth={2.4} isAnimationActive={false}>
            <ErrorBar dataKey="tetErr" direction="y" width={7.5} stroke={RED} strokeWidth={2.4} />
          </Bar>
          <Scatter xAxisId="dots" yAxisId="dots" data={zip(iDmsoDotX, iDmsoDotY)} shape={solidDot(BLUE, 5.5)} isAnimationActive={false} />
          <Scatter xAxisId="dots" yAxisId="dots" data={zip(iTetDotX, iTetDotY)} shape={solidDot(RED, 5.5)} isAnimationActive={false} />
        </ComposedChart>
      </div>
      <T x={1191.7} y={1580} s={27.7} a="middle" r={-90}>Colony number/10K cell</T>
      <T x={1298.3} y={1426.7} s={26.5}>DMSO</T>
      <T x={1298.3} y={1465} s={26.5}>TETi76</T>
      <T x={1251.7} y={1783} s={25} a="middle">Tet2</T>
      <T x={1319.3} y={1525} s={26} a="middle">ns</T>
      <T x={1427.7} y={1496} s={38} a="middle">*</T>
      <T x={1537.3} y={1467} s={38} a="middle">*</T>

      {/* annotations: legend keys, brackets, rules */}
      <svg width={1682} height={1920} style={{ position: "absolute", left: 0, top: 0, zIndex: 4, pointerEvents: "none" }}>
        {/* A legend keys, same order as the legend */}
        {["#0000ff", "#ff0000", "#00c000", "#ff8000", "#a000e0"].map((c, i) => (
          <g key={c}>
            <line x1={348} x2={365} y1={aLegendY[i]} y2={aLegendY[i]} stroke={c} strokeWidth={2.2} />
            <circle cx={356.7} cy={aLegendY[i]} r={6.8} fill={c} />
          </g>
        ))}
        {/* B */}
        {[[635.7, 684.7], [691, 740.7], [747.7, 796.7], [803, 852.7], [860, 910]].map(([a, b]) => (
          <line key={a} x1={a} x2={b} y1={585} y2={585} stroke="#222" strokeWidth={1.5} />
        ))}
        <line x1={749} x2={909.3} y1={614} y2={614} stroke="#222" strokeWidth={1.5} />
        {[959, 971, 981.7, 992.7, 1004].map((x) => (
          <line key={x} x1={x} x2={x} y1={558} y2={563} stroke="#555" strokeWidth={1} />
        ))}
        {/* C */}
        <line x1={1309} y1={294.7} x2={1441} y2={375} stroke="#ff0000" strokeWidth={4.5} strokeDasharray="4 4.5" />
        <polygon points="1447,372 1438,387 1455,387" fill="#ff0000" />
        {/* E legends */}
        {[
          [667, 1036, "#1414e6"], [667, 1065, "#18b818"], [934, 1026, "#1414e6"], [934, 1056.7, "#18b818"],
        ].map(([x, y, c]: any) => (
          <g key={`${x}${y}`}>
            <line x1={x - 8} x2={x + 8} y1={y} y2={y} stroke={c} strokeWidth={2} />
            <circle cx={x} cy={y} r={4.6} fill="none" stroke={c} strokeWidth={1.7} />
          </g>
        ))}
        {/* F */}
        <rect x={1327.7} y={727.5} width={15.5} height={16} fill={RED_FILL} stroke={RED} strokeWidth={2.4} />
        <rect x={1327.7} y={765.5} width={15.5} height={16} fill={BLUE_FILL} stroke={BLUE} strokeWidth={2.4} />
        {[[1328.3, 1430.7], [1441.7, 1544], [1555.7, 1658.3]].map(([a, b]) => (
          <polyline key={a} points={`${a},1156 ${a},1164.8 ${b},1164.8 ${b},1156`} fill="none" stroke="#000" strokeWidth={2.6} />
        ))}
        {/* G */}
        <line x1={143.8} x2={241} y1={1345.5} y2={1345.5} stroke="#222" strokeWidth={1.4} />
        <line x1={272.4} x2={369.6} y1={1347.5} y2={1347.5} stroke="#222" strokeWidth={1.4} />
        {/* H */}
        <circle cx={901} cy={1457.3} r={4.6} fill={BLUE} />
        <circle cx={901} cy={1493} r={4.6} fill={RED} />
        <polyline points="948.3,1596 948.3,1588.3 1006.7,1588.3 1006.7,1596" fill="none" stroke="#000" strokeWidth={2} />
        {/* I */}
        <circle cx={1279.3} cy={1426.7} r={5.5} fill={BLUE} />
        <circle cx={1279.3} cy={1465} r={5.5} fill={RED} />
        <polyline points="1292.3,1545.7 1292.3,1538 1344,1538 1344,1545.7" fill="none" stroke="#000" strokeWidth={2} />
        <polyline points="1400.7,1508.7 1400.7,1501 1454,1501 1454,1508.7" fill="none" stroke="#000" strokeWidth={2} />
        <polyline points="1511.7,1481 1511.7,1473.3 1563.3,1473.3 1563.3,1481" fill="none" stroke="#000" strokeWidth={2} />
      </svg>
    </div>
  );
}
